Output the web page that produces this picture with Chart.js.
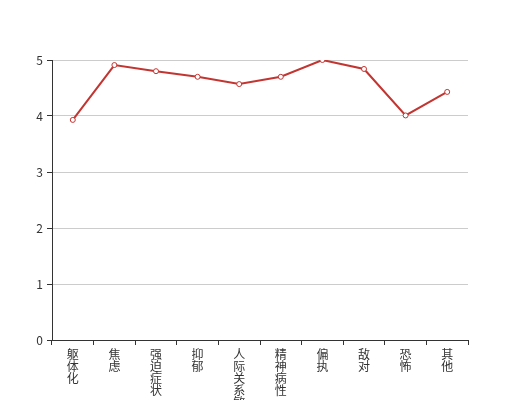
<!DOCTYPE html>
<html>
<head>
<meta charset="utf-8">
<script src="https://cdn.jsdelivr.net/npm/chart.js@4/dist/chart.umd.min.js"></script>
<style>
  html, body { margin: 0; padding: 0; background: #fff; }
  #wrap { width: 520px; height: 400px; }
</style>
</head>
<body>
<div id="wrap"><canvas id="myChart" width="520" height="400"></canvas></div>
<script>
const categories = ['躯体化', '焦虑', '强迫症状', '抑郁', '人际关系敏感', '精神病性', '偏执', '敌对', '恐怖', '其他'];
const scores = [3.93, 4.91, 4.80, 4.70, 4.57, 4.70, 5.00, 4.84, 4.01, 4.43];
const yTicks = [0, 1, 2, 3, 4, 5];

// one character per line, like the vertical labels in the picture
const verticalLabels = categories.map(c => c.split(''));

const ctx = document.getElementById('myChart').getContext('2d');
const fontFamily = "'Noto Sans CJK SC', 'Noto Sans', sans-serif";

const config = {
    type: 'line',
    data: {
        labels: verticalLabels,
        datasets: [
            {
                label: '得分',
                data: scores,
                borderColor: '#c23531',
                borderWidth: 2,
                backgroundColor: '#fff',
                pointBackgroundColor: '#fff',
                pointBorderColor: '#c23531',
                pointBorderWidth: 1,
                pointRadius: 2.5,
                tension: 0,
                fill: false,
            }
        ]
    },
    options: {
        responsive: false,
        animation: false,
        layout: {
            padding: { left: 0, right: 52, top: 60, bottom: 0 }
        },
        plugins: {
            legend: { display: false },
            tooltip: { enabled: false },
        },
        scales: {
            x: {
                offset: true,
                grid: {
                    offset: true,
                    drawOnChartArea: false,
                    color: '#333',
                    tickLength: 5,
                },
                border: { color: '#333', width: 1 },
                ticks: {
                    autoSkip: false,
                    maxRotation: 0,
                    minRotation: 0,
                    padding: 3,
                    color: '#333',
                    font: { family: fontFamily, size: 12, lineHeight: 1.0 },
                },
                afterFit: function (scale) { scale.height = 60; },
            },
            y: {
                min: 0,
                max: 5,
                afterBuildTicks: function (scale) {
                    scale.ticks = yTicks.map(v => ({ value: v }));
                },
                grid: {
                    color: '#ccc',
                    tickColor: '#333',
                    tickLength: 5,
                },
                border: { color: '#333', width: 1 },
                ticks: {
                    padding: 4,
                    color: '#333',
                    font: { family: fontFamily, size: 12 },
                },
                afterFit: function (scale) { scale.width = 52; },
            }
        }
    }
};

const lineChart = new Chart(ctx, config);
</script>
</body>
</html>
